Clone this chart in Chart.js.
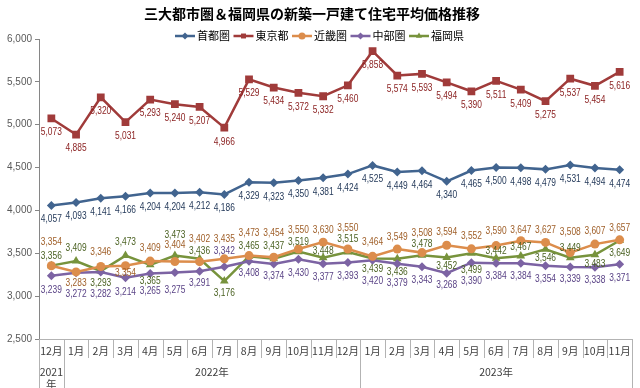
<!DOCTYPE html>
<html>
<head>
<meta charset="utf-8">
<script src="https://cdn.jsdelivr.net/npm/chart.js@4.4.0/dist/chart.umd.min.js"></script>
<style>
  html, body { margin: 0; padding: 0; background: #fff; }
</style>
</head>
<body>
<canvas id="priceChart" width="640" height="388"></canvas>
<script>
// months shown on the x axis (Dec 2021 - Nov 2023)
const months = ['12月', '1月', '2月', '3月', '4月', '5月', '6月', '7月', '8月', '9月', '10月', '11月',
    '12月', '1月', '2月', '3月', '4月', '5月', '6月', '7月', '8月', '9月', '10月', '11月'];
const yearLabels = [['2021', '年'], ['2022年'], ['2023年']];
const yearSpans = [1, 12, 11];

const seriesNames = ['首都圏', '東京都', '近畿圏', '中部圏', '福岡県'];

// 平均価格 (万円)
const shutoken = [4057, 4093, 4141, 4166, 4204, 4204, 4212, 4186, 4329, 4323, 4350, 4381,
    4424, 4525, 4449, 4464, 4340, 4465, 4500, 4498, 4479, 4531, 4494, 4474];
const tokyo = [5073, 4885, 5320, 5031, 5293, 5240, 5207, 4966, 5529, 5434, 5372, 5332,
    5460, 5858, 5574, 5593, 5494, 5390, 5511, 5409, 5275, 5537, 5454, 5616];
const kinki = [3354, 3283, 3346, 3354, 3409, 3404, 3402, 3435, 3473, 3454, 3550, 3630,
    3550, 3464, 3549, 3508, 3594, 3552, 3590, 3647, 3627, 3508, 3607, 3657];
const chubu = [3239, 3272, 3282, 3214, 3265, 3275, 3291, 3342, 3408, 3374, 3430, 3377,
    3393, 3420, 3379, 3343, 3268, 3390, 3384, 3384, 3354, 3339, 3338, 3371];
const fukuoka = [3356, 3409, 3293, 3473, 3365, 3473, 3436, 3176, 3465, 3437, 3519, 3448,
    3515, 3439, 3436, 3478, 3452, 3499, 3442, 3467, 3546, 3449, 3483, 3649];

const yTicks = [2500, 3000, 3500, 4000, 4500, 5000, 5500, 6000];

// label placement (px from the point, + = below)
const kinkiLabelDy = [-24, 11, -14, 7, -13, -16, -23, -20, -22, -24, -19, -12,
    -21, -14, -12, -19, -13, -13, -14, -11, -12, -20, -13, -12];
const chubuLabelDy = [14, 21, 22, 14, 18, 18, 12, -16, 12, 12, 14, 13,
    14, 21, 19, 13, 12, 18, 13, 13, 13, 12, 13, 14];
const fukuokaLabelDy = [-10, -13, 12, -13, 16, -20, -8, 12, -10, -13, -10, -7,
    -13, 11, 13, -11, 9, 17, -7, -9, 9, -10, 9, 13];

const numFont = "10.5px 'Liberation Sans', sans-serif";
const jpFont = "'Noto Sans CJK JP', 'Liberation Sans', sans-serif";

function makeSeries(name, values, color, labelColor, style, radius, dy) {
    return {
        label: name,
        data: values,
        borderColor: color,
        backgroundColor: color,
        pointBackgroundColor: color,
        pointBorderColor: color,
        pointBorderWidth: 0,
        pointStyle: style,
        pointRadius: radius,
        pointHoverRadius: radius,
        borderWidth: 2.5,
        tension: 0,
        labelColor: labelColor,
        labelDy: dy
    };
}

// value labels, squeezed a bit to look like the narrow Excel font
const pointLabels = {
    id: 'pointLabels',
    afterDatasetsDraw(chart) {
        const ctx = chart.ctx;
        ctx.save();
        ctx.font = numFont;
        ctx.textAlign = 'center';
        ctx.textBaseline = 'middle';
        chart.data.datasets.forEach((ds, di) => {
            const meta = chart.getDatasetMeta(di);
            ctx.fillStyle = ds.labelColor;
            meta.data.forEach((pt, i) => {
                const dy = Array.isArray(ds.labelDy) ? ds.labelDy[i] : ds.labelDy;
                ctx.save();
                ctx.translate(pt.x, pt.y + dy);
                ctx.scale(0.8, 1);
                ctx.fillText(ds.data[i].toLocaleString('en-US'), 0, 0);
                ctx.restore();
            });
        });
        ctx.restore();
    }
};

// title, legend with line+marker, and the two-row category axis
const decorations = {
    id: 'decorations',
    afterDraw(chart) {
        const ctx = chart.ctx;
        const area = chart.chartArea;
        const xs = chart.scales.x;
        const step = xs.getPixelForValue(1) - xs.getPixelForValue(0);
        ctx.save();

        ctx.fillStyle = '#000';
        ctx.font = 'bold 14px ' + jpFont;
        ctx.textAlign = 'center';
        ctx.textBaseline = 'middle';
        ctx.fillText('三大都市圏＆福岡県の新築一戸建て住宅平均価格推移', 312, 14);

        // legend
        ctx.font = '11px ' + jpFont;
        ctx.textAlign = 'left';
        let lx = 175;
        const ly = 36;
        chart.data.datasets.forEach((ds) => {
            ctx.strokeStyle = ds.borderColor;
            ctx.fillStyle = ds.borderColor;
            ctx.lineWidth = 2.5;
            ctx.beginPath();
            ctx.moveTo(lx, ly);
            ctx.lineTo(lx + 20, ly);
            ctx.stroke();
            Chart.helpers.drawPoint(ctx, {pointStyle: ds.pointStyle, radius: 3.5, rotation: 0, borderWidth: 0}, lx + 10, ly);
            ctx.fillStyle = '#000';
            ctx.fillText(ds.label, lx + 22, ly);
            lx += 58.5;
        });

        // category separators
        ctx.strokeStyle = '#b3b3b3';
        ctx.lineWidth = 1;
        const bottom = chart.height;
        for (let i = 0; i <= months.length; i++) {
            const x = Math.round(xs.getPixelForValue(i) - step / 2) + 0.5;
            ctx.beginPath();
            ctx.moveTo(x, area.bottom);
            ctx.lineTo(x, area.bottom + 19);
            ctx.stroke();
        }
        ctx.fillStyle = '#404040';
        ctx.font = '10.5px ' + jpFont;
        ctx.textAlign = 'center';
        let start = 0;
        yearLabels.forEach((lab, k) => {
            const left = xs.getPixelForValue(start) - step / 2;
            const right = left + yearSpans[k] * step;
            [left, right].forEach((x) => {
                const px = Math.round(x) + 0.5;
                ctx.beginPath();
                ctx.moveTo(px, area.bottom);
                ctx.lineTo(px, bottom);
                ctx.stroke();
            });
            const cx = (left + right) / 2;
            lab.forEach((line, j) => ctx.fillText(line, cx, 372 + j * 12));
            start += yearSpans[k];
        });
        ctx.restore();
    }
};

const config = {
    type: 'line',
    data: {
        labels: months,
        datasets: [
            makeSeries(seriesNames[0], shutoken, '#41648f', '#1f3556', 'rectRot', 4.5, 14),
            makeSeries(seriesNames[1], tokyo, '#a03b3a', '#8c2323', 'rect', 5.5, 14),
            makeSeries(seriesNames[2], kinki, '#dc8d4c', '#a0602a', 'circle', 4.5, kinkiLabelDy),
            makeSeries(seriesNames[3], chubu, '#7c63a3', '#5a4386', 'rectRot', 4.5, chubuLabelDy),
            makeSeries(seriesNames[4], fukuoka, '#77933c', '#4b6223', 'triangle', 5, fukuokaLabelDy)
        ]
    },
    options: {
        responsive: false,
        animation: false,
        events: [],
        layout: { padding: { top: 39, right: 8, left: 0, bottom: 0 } },
        plugins: {
            legend: { display: false },
            title: { display: false },
            tooltip: { enabled: false }
        },
        scales: {
            x: {
                offset: true,
                afterFit: (s) => { s.height = 49; },
                grid: { display: false, drawOnChartArea: false, drawTicks: false },
                border: { display: true, color: '#b3b3b3' },
                ticks: {
                    padding: 6,
                    color: '#404040',
                    font: { family: jpFont, size: 10.5 },
                    maxRotation: 0,
                    autoSkip: false
                }
            },
            y: {
                min: yTicks[0],
                max: yTicks[yTicks.length - 1],
                afterFit: (s) => { s.width = 39; },
                afterBuildTicks: (s) => { s.ticks = yTicks.map(v => ({ value: v })); },
                grid: { drawOnChartArea: false, drawTicks: true, tickLength: 4, color: '#868686' },
                border: { color: '#868686' },
                ticks: {
                    padding: 3,
                    color: '#595959',
                    font: { family: "'Liberation Sans', sans-serif", size: 10 },
                    callback: (v) => v.toLocaleString('en-US')
                }
            }
        }
    },
    plugins: [pointLabels, decorations]
};

const priceChart = new Chart(document.getElementById('priceChart'), config);
</script>
</body>
</html>
